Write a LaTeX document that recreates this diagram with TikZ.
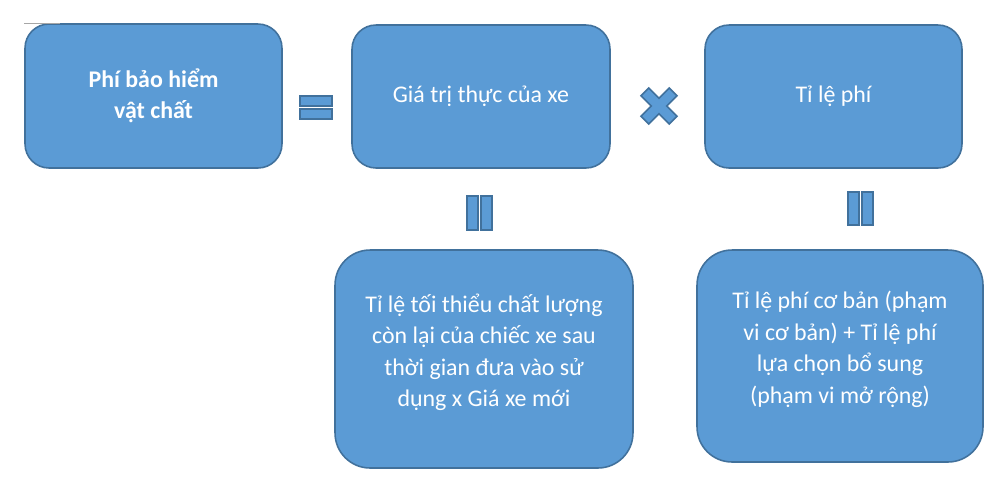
\documentclass[tikz,border=0pt]{standalone}
\usepackage{fontspec}
\setmainfont{Carlito}
\usepackage{xcolor}
\usepackage{tikz}

\definecolor{boxfill}{HTML}{5B9BD5}
\definecolor{boxline}{HTML}{41719C}

\begin{document}
\begin{tikzpicture}[x=0.02cm,y=-0.02cm,
  box/.style={draw=boxline,fill=boxfill,line width=0.9pt,text=white,align=center,
    font=\fontsize{13.6}{18}\selectfont,inner sep=0pt,rounded corners=0.48cm},
  bigbox/.style={box,rounded corners=0.7cm,text depth=10pt},
  sign/.style={draw=boxline,fill=boxfill,line width=0.9pt}]
\useasboundingbox (0,0) rectangle (1000,498);

% Top row
\node[box,minimum width=5.14cm,minimum height=2.88cm,font=\fontsize{13.6}{17.5}\selectfont\bfseries]
  (premium) at (153.5,96) {Phí bảo hiểm\\vật chất};
\node[box,minimum width=5.16cm,minimum height=2.86cm] (value) at (481,96.5) {Giá trị thực của xe};
\node[box,minimum width=5.14cm,minimum height=2.86cm] (rate) at (833.5,96.5) {Tỉ lệ phí};
\draw[gray!70,line width=0.4pt] (24,23) -- (60,23);

% Bottom row
\node[bigbox,minimum width=5.96cm,minimum height=4.36cm] (valuedef) at (484,359)
  {Tỉ lệ tối thiểu chất lượng\\còn lại của chiếc xe sau\\thời gian đưa vào sử\\dụng x Giá xe mới};
\node[bigbox,minimum width=5.72cm,minimum height=4.24cm] (ratedef) at (840,356)
  {Tỉ lệ phí cơ bản (phạm\\vi cơ bản) + Tỉ lệ phí\\lựa chọn bổ sung\\(phạm vi mở rộng)};

% Equals signs
\foreach \y in {96,109}
  \draw[sign] (300,\y) rectangle ++(32,10);
\foreach \x in {467,481}
  \draw[sign] (\x,196) rectangle ++(11,34);
\foreach \x in {848,862}
  \draw[sign] (\x,192) rectangle ++(11,33);

% Times sign
\draw[sign,shift={(659,106)},rotate=45]
  (-5.5,-20) -- (5.5,-20) -- (5.5,-5.5) -- (20,-5.5) -- (20,5.5) -- (5.5,5.5)
  -- (5.5,20) -- (-5.5,20) -- (-5.5,5.5) -- (-20,5.5) -- (-20,-5.5) -- (-5.5,-5.5) -- cycle;
\end{tikzpicture}
\end{document}
